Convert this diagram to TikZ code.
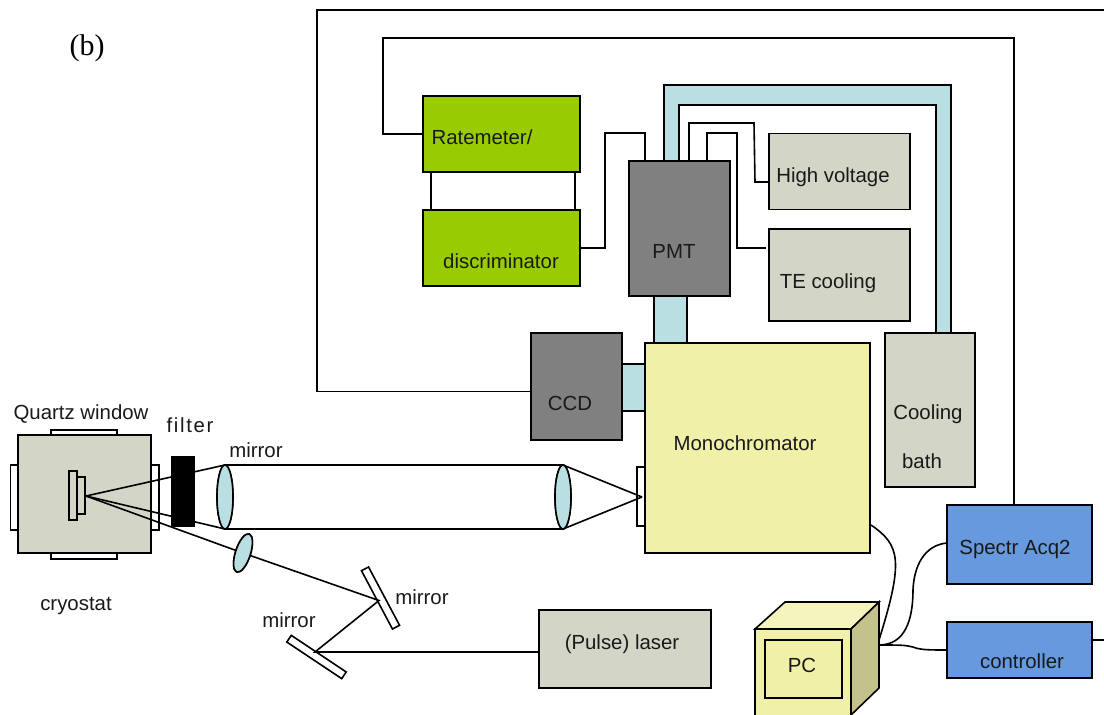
\documentclass[tikz,border=0pt]{standalone}
\usepackage{fontspec}
\setmainfont{Liberation Sans}
\newfontfamily\serifb{Liberation Serif}
\newfontfamily\widefont[LetterSpace=8]{Liberation Sans}
\usetikzlibrary{shapes.geometric}
\definecolor{boxgreen}{HTML}{99CC00}
\definecolor{boxgray}{HTML}{808080}
\definecolor{boxsage}{HTML}{D3D6C6}
\definecolor{boxyellow}{HTML}{F0F0A8}
\definecolor{boxblue}{HTML}{6699DD}
\definecolor{tubeblue}{HTML}{B9DFE3}
\definecolor{pctop}{HTML}{F4F4BC}
\definecolor{pcside}{HTML}{C2C28A}
\tikzset{
    box/.style={draw=black,line width=1.6pt,inner sep=0,outer sep=0,rectangle},
    lens/.style={draw=black,line width=1.6pt,fill=tubeblue,inner sep=0,outer sep=0,ellipse},
    txt/.style={inner sep=0,font=\fontsize{20.4}{24}\selectfont,text=black!90},
    wire/.style={line width=1.6pt,draw=black}
}
\begin{document}
\begin{tikzpicture}[x=1pt,y=-1pt,line join=miter]
\useasboundingbox (0,0) rectangle (1104,715);
% instrument boxes
\node[box,fill=boxgreen,minimum width=157,minimum height=76] (ratemeter) at (501.5,134){};
\node[box,fill=boxgreen,minimum width=157,minimum height=76] (discriminator) at (501.5,248){};
\node[box,fill=boxsage,minimum width=141,minimum height=76] (voltage) at (839.5,171.5){};
\node[box,fill=boxsage,minimum width=141,minimum height=92] (tecooling) at (839.5,275){};
\node[box,fill=boxsage,minimum width=90,minimum height=154] (bath) at (930,410){};
\node[box,fill=boxblue,minimum width=145,minimum height=79] (spectr) at (1019.5,544.5){};
\node[box,fill=boxblue,minimum width=145,minimum height=56] (controller) at (1019.5,650){};
\node[box,fill=boxsage,minimum width=172,minimum height=78] (laser) at (625,649){};
% light tubes
\draw[wire,fill=tubeblue] (664,161)--(664,85)--(951,85)--(951,333)--(936,333)--(936,105)--(679,105)--(679,161)--cycle;
\node[box,fill=tubeblue,minimum width=33,minimum height=47] (tubeup) at (670.5,319.5){};
\node[box,fill=tubeblue,minimum width=23,minimum height=47] (tubeside) at (633.5,387.5){};
\node[box,fill=boxgray,minimum width=101,minimum height=135] (pmt) at (679.5,228.5){};
\node[box,fill=boxgray,minimum width=91,minimum height=107] (ccd) at (576.5,386.5){};
\node[box,fill=boxyellow,minimum width=225,minimum height=210] (mono) at (757.5,448){};
\node[box,fill=white,minimum width=8,minimum height=59] (slit) at (641,496.5){};
% cryostat
\node[box,fill=white,minimum width=66,minimum height=14] (wintop) at (84,437){};
\node[box,fill=white,minimum width=66,minimum height=14] (winbottom) at (84,552){};
\node[box,fill=white,minimum width=14,minimum height=65] (winleft) at (17.5,497.5){};
\node[box,fill=white,minimum width=14,minimum height=65] (winright) at (152,497.5){};
\node[box,fill=boxsage,minimum width=133,minimum height=118] (cryostat) at (84.5,494){};
\node[box,fill=boxsage,minimum width=8,minimum height=49] (holder) at (73,495.5){};
\node[box,fill=boxsage,minimum width=8,minimum height=37] (sample) at (81,495.5){};
\coordinate (focus) at (86,496);
% wires
\coordinate (wireend) at (1104,10);
\coordinate (ctrlend) at (1104,640);
\draw[wire] (ccd.west |- 0,391.5) -| (317,10) -- (wireend);
\draw[wire] (ratemeter.west) -| (383,38) -| (spectr.north -| 1014,0);
\draw[wire] ([xshift=8]ratemeter.south west) -- ([xshift=8]discriminator.north west);
\draw[wire] ([xshift=-5]ratemeter.south east) -- ([xshift=-5]discriminator.north east);
\draw[wire] (discriminator.east) -| (605,133) -| (645,161);
\draw[wire] (689,161) |- (754,123) -- (755,182) -- (voltage.west |- 0,182);
\draw[wire] (707,161) |- (737,133) |- (766,248);
\draw[wire] (controller.east |- 0,640) -- (ctrlend);
% optics
\coordinate (slitfocus) at (642,497);
\node[lens,minimum width=16,minimum height=64] (lensa) at (225,497){};
\node[lens,minimum width=16,minimum height=64] (lensb) at (563,497){};
\node[lens,minimum width=15,minimum height=40,rotate=-18] (lensc) at (243,553){};
\node[box,fill=white,minimum width=8,minimum height=66,rotate=28] (mirrorb) at (380.5,598){};
\node[box,fill=white,minimum width=66,minimum height=8,rotate=-33.7] (mirrorc) at (316.5,657){};
\coordinate (hitb) at (379,600.5);
\coordinate (hitc) at (315,652);
\draw[wire] (focus) -- (lensa.north);
\draw[wire] (focus) -- (lensa.south);
\draw[wire] (lensa.north) -- (lensb.north);
\draw[wire] (lensa.south) -- (lensb.south);
\draw[wire] (lensb.north) -- (slitfocus);
\draw[wire] (lensb.south) -- (slitfocus);
\draw[wire] (focus) -- (lensc);
\draw[wire] (lensc) -- (hitb) -- (hitc) -- (laser.west |- hitc);
\node[box,fill=black,minimum width=22,minimum height=69] (filterblock) at (183,491.5){};
\node[lens,minimum width=16,minimum height=64] at (lensa){};
\node[lens,minimum width=16,minimum height=64] at (lensb){};
\node[lens,minimum width=15,minimum height=40,rotate=-18] at (lensc){};
% computer
\filldraw[wire,fill=boxyellow] (755,629) rectangle (851,730);
\filldraw[wire,fill=pctop] (755,629)--(785,602)--(879,602)--(851,629)--cycle;
\filldraw[wire,fill=pcside] (851,629)--(879,602)--(879,688)--(851,715)--cycle;
\node[box,fill=boxyellow,minimum width=77,minimum height=58] (pc) at (803.5,669){};
\coordinate (pcport) at (879,645);
\coordinate (spectrbend) at (913,590);
\draw[wire] (871,525) .. controls (900,545) and (904,560) .. (879,640);
\draw[wire] (pcport) .. controls (905,645) and (913,620) .. (spectrbend) .. controls (914,565) and (925,545) .. (spectr.west |- 0,543);
\draw[wire] (pcport) .. controls (900,645) and (905,645) .. (913,647) .. controls (920,650) and (930,650) .. (controller.west |- 0,650);
% labels
\node[inner sep=0,font=\fontsize{30}{34}\selectfont\serifb] (panel) at (87,48){(b)};
\node[txt] (ratemeterlabel) at (482,137){Ratemeter/};
\node[txt] (discriminatorlabel) at (501,261){discriminator};
\node[txt] (pmtlabel) at (674,251){PMT};
\node[txt] (voltagelabel) at (833,177){High voltage};
\node[txt] (tecoolinglabel) at (828,283){TE cooling};
\node[txt] (ccdlabel) at (570,403){CCD};
\node[txt] (monolabel) at (745,443){Monochromator};
\node[txt] (coolinglabel) at (928,414){Cooling};
\node[txt] (bathlabel) at (922,461){bath};
\node[txt] (spectrlabel) at (1015,549){Spectr Acq2};
\node[txt] (controllerlabel) at (1022,661){controller};
\node[txt] (pclabel) at (802,665){PC};
\node[txt] (laserlabel) at (622,644){(Pulse) laser};
\node[txt] (quartzlabel) at (81,414){Quartz window};
\node[txt,font=\fontsize{20.4}{24}\selectfont\widefont] (filterlabel) at (190,425){filter};
\node[txt] (mirroralabel) at (256,450){mirror};
\node[txt] (mirrorblabel) at (422,597){mirror};
\node[txt] (mirrorclabel) at (289,620){mirror};
\node[txt] (cryostatlabel) at (76,606){cryostat};
\end{tikzpicture}
\end{document}
